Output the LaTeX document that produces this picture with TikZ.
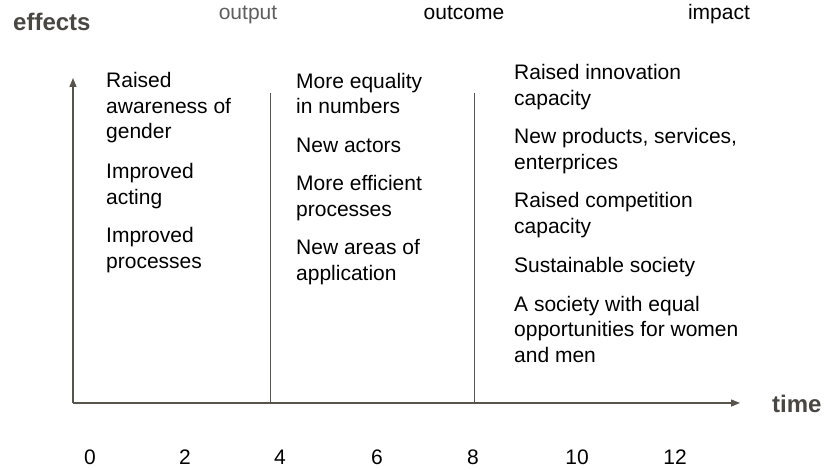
\documentclass[tikz,border=0pt]{standalone}
\usepackage{fontspec}
\setmainfont{Liberation Sans}
\usetikzlibrary{arrows.meta}
\definecolor{axisgray}{HTML}{57544C}
\definecolor{labelgray}{HTML}{4A4742}
\definecolor{phasegray}{HTML}{5E5E5E}

\begin{document}
\begin{tikzpicture}[x=1pt,y=-1pt]
     % Define styles
     \tikzstyle{axis} = [axisgray, line width=1.4pt, -{Triangle[length=9pt,width=7pt]}]
     \tikzstyle{divider} = [axisgray, line width=1pt]
     \tikzstyle{effect} = [anchor=base west, inner sep=0pt, align=left, font=\fontsize{21}{25.5}\selectfont]
     \tikzstyle{phase} = [anchor=base, inner sep=0pt, font=\fontsize{21}{25}\selectfont]
     \tikzstyle{axislabel} = [labelgray, anchor=base west, inner sep=0pt, font=\fontsize{24}{28}\selectfont\bfseries]

     \useasboundingbox (0,0) rectangle (826,470);

     % Corner points of the axes
     \coordinate (origin) at (73,403);
     \coordinate (ytip)   at (73,78);
     \coordinate (xtip)   at (740,403);

     % Axes
     \draw[axis] (origin) -- (ytip);
     \draw[axis] (origin) -- (xtip);
     \node[axislabel] (effects) at (13,31) {effects};
     \node[axislabel] (time) at (772,412) {time};

     % Dividers between the phases
     \coordinate (d1top) at (270,93);
     \coordinate (d1bot) at (270,403);
     \coordinate (d2top) at (474,93);
     \coordinate (d2bot) at (474,403);
     \draw[divider] (d1top) -- (d1bot);
     \draw[divider] (d2top) -- (d2bot);

     % Phase names
     \node[phase, phasegray] (output)  at (248,20) {output};
     \node[phase] (outcome) at (464,20) {outcome};
     \node[phase] (impact)  at (719,20) {impact};

     % Effects per phase (placed at the baseline of the last line)
     \node[effect] (outputfx) at (106,268)
          {Raised\\awareness of\\gender\\[14pt]Improved\\acting\\[13pt]Improved\\processes};
     \node[effect] (outcomefx) at (296,280)
          {More equality\\in numbers\\[13pt]New actors\\[13pt]More efficient\\processes\\[13pt]New areas of\\application};
     \node[effect] (impactfx) at (514,362)
          {Raised innovation\\capacity\\[13pt]New products, services,\\enterprices\\[13pt]Raised competition\\capacity\\[14pt]Sustainable society\\[13pt]A society with equal\\opportunities for women\\and men};

     % Time scale
     \foreach \t/\x in {0/90,2/185,4/280,6/377,8/473,10/577,12/675} {
          \node[phase] (t\t) at (\x,464) {\t};
     }
\end{tikzpicture}
\end{document}
